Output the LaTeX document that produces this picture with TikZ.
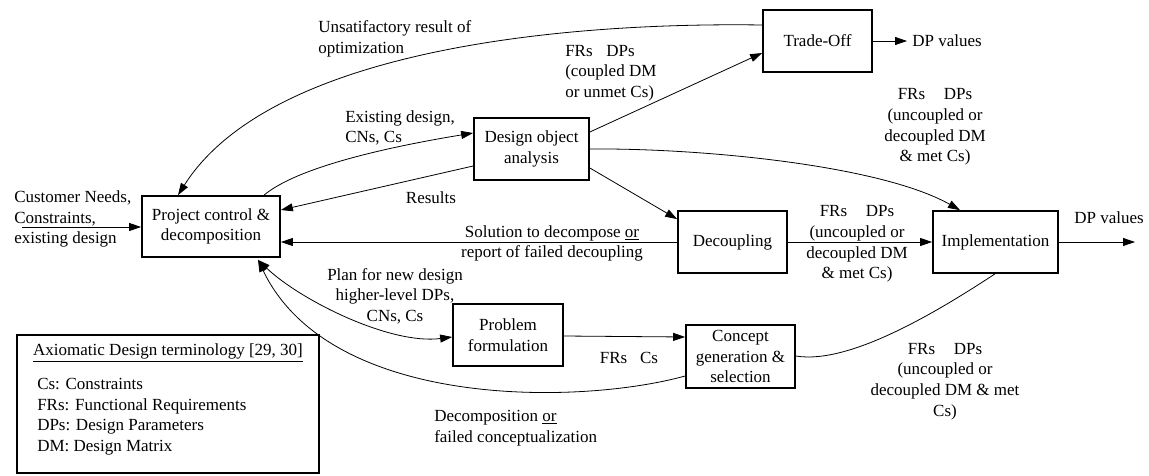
\documentclass[tikz,border=0pt]{standalone}
\usepackage{fontspec}
\setmainfont{Liberation Serif}
\usetikzlibrary{arrows.meta,calc}
\begin{document}
\begin{tikzpicture}[x=0.75pt,y=-0.75pt,
  every node/.style={font=\fontsize{12.75pt}{15.5pt}\selectfont},
  blk/.style={draw,line width=1.3pt,inner sep=0pt,align=center},
  lbl/.style={inner sep=0pt,align=center},
  lbll/.style={inner sep=0pt,align=left},
  link/.style={line width=0.6pt,-{Triangle[length=9pt,width=6pt]}},
  both/.style={line width=0.6pt,{Triangle[length=9pt,width=6pt]}-{Triangle[length=9pt,width=6pt]}},
  plain/.style={line width=0.6pt}]
\useasboundingbox (0,0) rectangle (1149,475);

% process blocks
\node[blk,minimum width=103.5pt,minimum height=45.75pt] (pc) at (211,226.5) {Project control \&\\decomposition};
\node[blk,minimum width=86.25pt,minimum height=46.5pt] (doa) at (531.5,149) {Design object\\analysis};
\node[blk,minimum width=81.75pt,minimum height=46.5pt] (to) at (817.5,41) {Trade-Off};
\node[blk,minimum width=81.75pt,minimum height=46.5pt] (dec) at (732.5,242) {Decoupling};
\node[blk,minimum width=93.75pt,minimum height=46.5pt] (imp) at (995.5,242) {Implementation};
\node[blk,minimum width=82.5pt,minimum height=46.5pt] (pf) at (508,335) {Problem\\formulation};
\node[blk,minimum width=81.75pt,minimum height=47.25pt] (cg) at (740.5,356.5) {Concept\\generation \&\\selection};

% terminology box
\node[draw,line width=0.8pt,minimum width=226.5pt,minimum height=103.5pt,inner sep=0pt] (legend) at (168,404) {};
\node[lbl] (legtitle) at (168,353) {\underline{Axiomatic Design terminology [29, 30]}};
\node[lbll,anchor=north west] (legitems) at (37,378) {Cs: Constraints\\FRs: Functional Requirements\\DPs: Design Parameters\\DM: Design Matrix};

% free ends
\coordinate (inp) at (22,227);
\coordinate (toout) at (907,41);
\coordinate (impout) at (1135,242);
\coordinate (pcbot) at ($(pc.south)+(47,2)$);

% labels
\node[lbll,anchor=west] (tin) at (14,219) {Customer Needs,\\Constraints,\\existing design};
\node[lbll,anchor=west] (tunsat) at (318,39) {Unsatifactory result of\\optimization};
\node[lbll,anchor=west] (texist) at (345,128) {Existing design,\\CNs, Cs};
\node[lbl] (tres) at (431,198) {Results};
\node[lbl] (tsol) at (552,243.5) {Solution to decompose \underline{or}\\report of failed decoupling};
\node[lbll,anchor=west] (tcoup) at (565,73) {FRs\hspace{0.8em}DPs\\(coupled DM\\or unmet Cs)};
\node[lbl] (tunc1) at (935,127) {FRs\hspace{1.1em}DPs\\(uncoupled or\\decoupled DM\\\& met Cs)};
\node[lbll,anchor=west] (tdp1) at (912,41) {DP values};
\node[lbl] (tunc2) at (857,244) {FRs\hspace{1.1em}DPs\\(uncoupled or\\decoupled DM\\\& met Cs)};
\node[lbl] (tdp2) at (1109,218) {DP values};
\node[lbl] (tplan) at (395,296) {Plan for new design\\higher-level DPs,\\CNs, Cs};
\node[lbl] (tfrcs) at (629,358) {FRs\hspace{0.75em}Cs};
\node[lbll,anchor=west] (tdecomp) at (434,428) {Decomposition \underline{or}\\failed conceptualization};
\node[lbl] (tunc3) at (945,381.5) {FRs\hspace{1.1em}DPs\\(uncoupled or\\decoupled DM \& met\\Cs)};

% connectors
\draw[link] (inp) -- (inp -| pc.west);
\draw[link] ($(to.west)+(0,-16)$) .. controls (560,22) and (270,50) .. ($(pc.north)+(-33,0)$);
\draw[link] ($(pc.north)+(53,0)$) .. controls (300,165) and (400,145) .. ($(doa.west)+(0,-16)$);
\draw[link] ($(doa.west)+(0,17)$) -- ($(pc.east)+(0,-16.5)$);
\draw[link] (dec.west) -- (pc.east |- dec.west);
\draw[link] ($(doa.east)+(0,-17)$) -- ($(to.west)+(0,12)$);
\draw[link] ($(doa.east)+(0,19)$) -- ($(dec.north west)+(0,9)$);
\draw[link] (doa.east) .. controls (700,148) and (880,165) .. ($(imp.north)+(-35.5,0)$);
\draw[link] (dec.east) -- (imp.west);
\draw[link] (imp.east) -- (impout);
\draw[link] (to.east) -- (toout);
\draw[both] (pcbot) .. controls (300,300) and (390,345) .. ($(pf.west)+(0,2)$);
\draw[link] ($(cg.west)+(0,19.5)$) .. controls (580,405) and (330,410) .. (pcbot);
\draw[link] ($(pf.east)+(0,1)$) -- ($(cg.west)+(0,-19.5)$);
\draw[plain] ($(cg.east)+(0,-0.5)$) .. controls (850,365) and (940,310) .. ($(imp.south)+(-0.5,0)$);
\end{tikzpicture}
\end{document}
